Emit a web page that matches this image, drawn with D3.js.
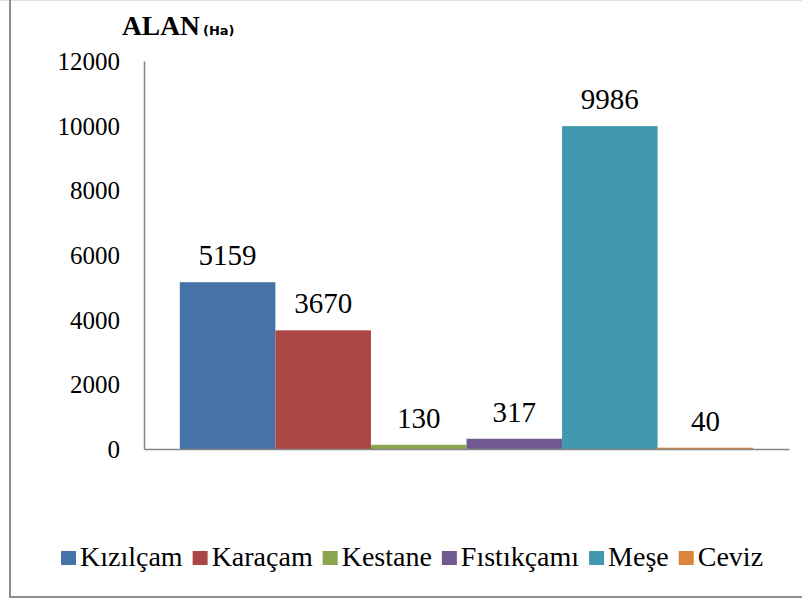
<!DOCTYPE html>
<html>
<head>
<meta charset="utf-8">
<script src="https://cdn.jsdelivr.net/npm/d3@7"></script>
</head>
<body style="margin:0">
<svg id="chart" width="802" height="601"></svg>
<script>
// data
var species = ["Kızılçam", "Karaçam", "Kestane", "Fıstıkçamı", "Meşe", "Ceviz"];
var areas = [5159, 3670, 130, 317, 9986, 40];
var colors = ["#4572A7", "#AA4643", "#89A54E", "#71588F", "#4198AF", "#DB843D"];
var yTicks = [0, 2000, 4000, 6000, 8000, 10000, 12000];

var svg = d3.select("#chart");
var times = "'Times New Roman'";

// outer frame (right side runs off the picture)
svg.append("line").attr("x1", 0).attr("x2", 802).attr("y1", 0.5).attr("y2", 0.5)
  .attr("stroke", "#e2e2e2").attr("stroke-width", 1);
svg.append("line").attr("x1", 10).attr("x2", 10).attr("y1", 0).attr("y2", 598)
  .attr("stroke", "#8e8e8e").attr("stroke-width", 2);
svg.append("line").attr("x1", 9).attr("x2", 802).attr("y1", 597).attr("y2", 597)
  .attr("stroke", "#8e8e8e").attr("stroke-width", 2);

var x = d3.scaleBand().domain(species).range([144, 789])
  .paddingInner(0).paddingOuter(0.375);
var y = d3.scaleLinear().domain([0, 12000]).range([449, 61]);

// bars
svg.selectAll("rect.bar").data(areas).enter().append("rect")
  .attr("class", "bar")
  .attr("x", function(d, i){ return x(species[i]); })
  .attr("width", x.bandwidth())
  .attr("y", function(d){ return y(d); })
  .attr("height", function(d){ return y(0) - y(d); })
  .attr("fill", function(d, i){ return colors[i]; });

// y axis: line from the axis generator, labels written by hand from the same scale
var yAxis = svg.append("g").attr("transform", "translate(144,0)")
  .call(d3.axisLeft(y).tickValues(yTicks).tickSize(0).tickFormat(""));
yAxis.select(".domain").attr("stroke", "#868686").attr("stroke-width", 1.5);
svg.selectAll("text.tick-label").data(yTicks).enter().append("text")
  .attr("class", "tick-label")
  .attr("x", 120)
  .attr("y", function(d){ return y(d) + 9; })
  .attr("text-anchor", "end")
  .attr("font-family", "Times New Roman").style("font-family", times)
  .style("font-size", "25px").attr("fill", "#000")
  .text(function(d){ return d; });

var xAxis = svg.append("g").attr("transform", "translate(0,449)")
  .call(d3.axisBottom(x).tickSize(0).tickFormat(""));
xAxis.select(".domain").attr("stroke", "#868686").attr("stroke-width", 1.5);

// value labels
svg.selectAll("text.val").data(areas).enter().append("text")
  .attr("class", "val")
  .attr("x", function(d, i){ return x(species[i]) + x.bandwidth() / 2; })
  .attr("y", function(d){ return y(d) - 17; })
  .attr("text-anchor", "middle")
  .attr("font-family", "Times New Roman").style("font-family", times)
  .style("font-size", "29px").attr("fill", "#000")
  .text(function(d){ return d; });

// title
svg.append("text").attr("x", 122).attr("y", 35)
  .attr("font-family", "Times New Roman").style("font-family", times)
  .style("font-weight", "bold").style("font-size", "27.5px").text("ALAN");
svg.append("text").attr("x", 203).attr("y", 35)
  .attr("font-family", "DejaVu Sans").style("font-family", "'DejaVu Sans'")
  .style("font-weight", "bold").style("font-size", "13px").text("(Ha)");

// legend
var lx = 61;
species.forEach(function(s, i){
  svg.append("rect").attr("x", lx).attr("y", 551).attr("width", 15).attr("height", 14)
    .attr("fill", colors[i]);
  var t = svg.append("text").attr("x", lx + 19).attr("y", 566)
    .attr("font-family", "Times New Roman").style("font-family", times)
    .style("font-size", "28px").attr("fill", "#000").text(s);
  lx = lx + 19 + t.node().getComputedTextLength() + 10;
});
</script>
</body>
</html>
